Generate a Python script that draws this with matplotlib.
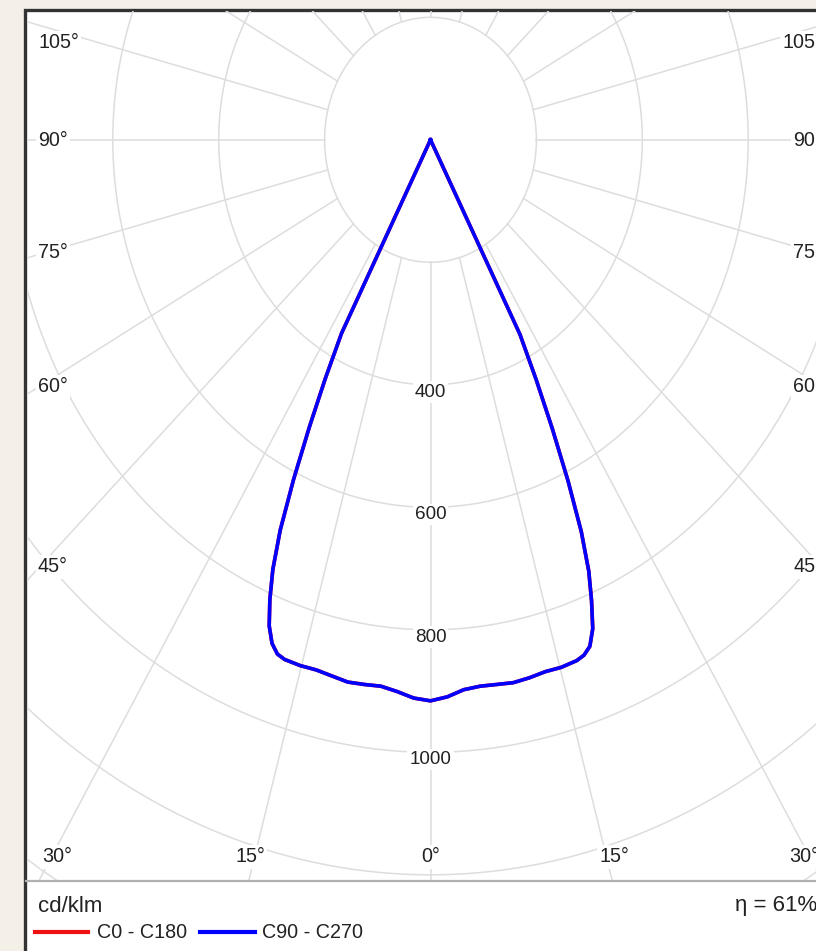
import numpy as np
import matplotlib
matplotlib.use("Agg")
import matplotlib.pyplot as plt
from matplotlib.patches import Rectangle
from matplotlib.lines import Line2D

plt.rcParams['font.family'] = ['Liberation Sans', 'DejaVu Sans']

# luminous intensity distribution, cd/klm (gamma measured from nadir)
gamma = [0, 2, 4, 6, 8, 10, 12, 14, 16, 18, 19, 20, 21, 22, 23, 24, 25, 26, 27, 28, 30]
c90 = [916, 910, 900, 897, 898, 900, 898, 895, 896, 894, 890, 880, 855, 812, 765, 700, 615, 525, 440, 360, 0]
c270 = [916, 912, 903, 897, 898, 899, 895, 892, 893, 892, 888, 875, 850, 810, 762, 698, 612, 522, 438, 358, 0]
c0 = c90
c180 = c270

rings = [200, 400, 600, 800, 1000, 1200, 1400, 1600, 1800, 2000]
ring_labels = [400, 600, 800, 1000]
spokes = np.arange(0, 360, 15)
side_labels = ['105°', '90°', '75°', '60°', '45°']
bottom_labels = ['30°', '15°', '0°', '15°', '30°']
eta = 61

W, H = 816, 951
cx, cy = 430.5, 139.8      # pixel position of the pole
sx, sy = 0.5295, 0.6125    # px per cd/klm, horizontal / vertical
k = 1.059                  # spokes are drawn a little wider than the rings
bg = '#f4f0e8'
grid = '#dddddd'
txt = '#222222'

def fx(px):
    return px / W

def fy(py):
    return 1 - py / H

fig = plt.figure(figsize=(W / 100, H / 100), dpi=100, facecolor=bg)

# white panel with dark frame
fig.add_artist(Rectangle((fx(25), fy(H + 5)), fx(W) - fx(25) + 0.02, fy(10) - fy(H + 5),
                         transform=fig.transFigure, facecolor='white',
                         edgecolor='#333333', linewidth=2.4, zorder=0))
fig.add_artist(Line2D([fx(26), 1], [fy(881), fy(881)], transform=fig.transFigure,
                      color='#b0b0b0', linewidth=1.6, zorder=1))

left, right, top, bot = 26.5, W, 11, 880
ax = fig.add_axes([fx(left), fy(bot), fx(right) - fx(left), fy(top) - fy(bot)])
ax.set_xlim((left - cx) / sx, (right - cx) / sx)
ax.set_ylim((bot - cy) / sy, (top - cy) / sy)
ax.axis('off')
ax.patch.set_alpha(0)

t = np.linspace(0, 2 * np.pi, 721)
for r in rings:
    ax.plot(r * np.sin(t), r * np.cos(t), color=grid, linewidth=1.1, zorder=1)
for a in np.radians(spokes):
    d = np.array([k * np.sin(a), np.cos(a)])
    d = d / np.hypot(*d)
    ax.plot([200 * d[0], 4000 * d[0]], [200 * d[1], 4000 * d[1]],
            color=grid, linewidth=1.1, zorder=1)

for r in ring_labels:
    ax.text(0, r - 2, str(r), ha='center', va='top', fontsize=13.6, color=txt, zorder=3,
            bbox=dict(facecolor='white', edgecolor='none', pad=1.5))

def polar_xy(g, i, sign):
    g = np.radians(g)
    i = np.asarray(i, dtype=float)
    return sign * i * np.sin(g), i * np.cos(g)

def curve(right_vals, left_vals):
    xr, yr = polar_xy(gamma, right_vals, 1)
    xl, yl = polar_xy(gamma, left_vals, -1)
    return np.r_[xl[::-1], xr[1:]], np.r_[yl[::-1], yr[1:]]

x0, y0 = curve(c0, c180)
ax.plot(x0, y0, color='#ff0000', linewidth=2.6, zorder=4)
x1, y1 = curve(c90, c270)
ax.plot(x1, y1, color='#0000ff', linewidth=2.6, zorder=5)

lab = dict(fontsize=14.2, color=txt, va='center', zorder=6,
           bbox=dict(facecolor='white', edgecolor='none', pad=1.5))
side_y = [43, 140, 253, 387, 567]
for s, yy in zip(side_labels, side_y):
    fig.text(fx(38), fy(yy), s, ha='left', **lab)
    fig.text(fx(W + 7), fy(yy), s, ha='right', **lab)
bottom_x = [57, 250, 431, 614, 804]
for s, xx in zip(bottom_labels, bottom_x):
    fig.text(fx(xx), fy(857), s, ha='center', **lab)

fig.text(fx(38), fy(907), 'cd/klm', ha='left', va='center', fontsize=16, color=txt)
fig.text(fx(735), fy(905), f'η = {eta}%', ha='left', va='center', fontsize=16, color=txt)

fig.add_artist(Line2D([fx(35), fx(88)], [fy(932), fy(932)], transform=fig.transFigure,
                      color='#ee1111', linewidth=3))
fig.text(fx(97), fy(933), 'C0 - C180', ha='left', va='center', fontsize=14.2, color=txt)
fig.add_artist(Line2D([fx(200), fx(255)], [fy(932), fy(932)], transform=fig.transFigure,
                      color='#0000ff', linewidth=3))
fig.text(fx(262), fy(933), 'C90 - C270', ha='left', va='center', fontsize=14.2, color=txt)

fig.savefig('out.png', dpi=100, facecolor=bg)
